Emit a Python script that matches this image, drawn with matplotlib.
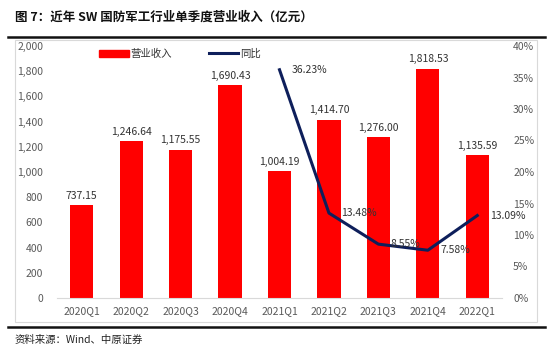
import matplotlib
matplotlib.use("Agg")
import matplotlib.pyplot as plt
import numpy as np
from matplotlib.patches import Rectangle
from matplotlib.lines import Line2D
from matplotlib.ticker import FuncFormatter

plt.rcParams['font.family'] = ['Noto Sans CJK SC', 'DejaVu Sans']

quarters = ['2020Q1', '2020Q2', '2020Q3', '2020Q4', '2021Q1',
            '2021Q2', '2021Q3', '2021Q4', '2022Q1']
revenue = [737.15, 1246.64, 1175.55, 1690.43, 1004.19,
           1414.70, 1276.00, 1818.53, 1135.59]
yoy_quarters = ['2021Q1', '2021Q2', '2021Q3', '2021Q4', '2022Q1']
yoy = [36.23, 13.48, 8.55, 7.58, 13.09]

W, H = 553, 356
fig = plt.figure(figsize=(W / 100, H / 100), dpi=100)

# title and frame lines
fig.text(15 / W, 1 - 17 / H, '图 7：近年 SW 国防军工行业单季度营业收入（亿元）',
         fontsize=9, fontweight='bold', va='center', ha='left', color='#111111')
fig.add_artist(Line2D([8 / W, 545 / W], [1 - 37 / H, 1 - 37 / H], color='#111111', lw=1.8))
fig.add_artist(Line2D([8 / W, 545 / W], [1 - 327 / H, 1 - 327 / H], color='#111111', lw=1.8))
fig.add_artist(Rectangle((15 / W, 1 - 322 / H), 522 / W, 282 / H, fill=False,
                         edgecolor='#d9d9d9', lw=0.8))
fig.text(15 / W, 1 - 340 / H, '资料来源：Wind、中原证券', fontsize=7.5,
         va='center', ha='left', color='#222222')

ax = fig.add_axes([57 / W, 58 / H, 445 / W, 252 / H])
x = np.arange(len(quarters))
ax.bar(x, revenue, width=0.47, color='#ff0000', label='营业收入', zorder=2)
for xi, v in zip(x, revenue):
    ax.text(xi, v + 35, f'{v:,.2f}', ha='center', va='bottom', fontsize=7.5, color='#333333')
ax.set_xlim(-0.5, len(quarters) - 0.5)
ax.set_ylim(0, 2000)
ax.set_yticks(np.arange(0, 2001, 200))
ax.yaxis.set_major_formatter(FuncFormatter(lambda v, p: f'{v:,.0f}'))
ax.set_xticks(x)
ax.set_xticklabels(quarters)
for s in ['top', 'right', 'left']:
    ax.spines[s].set_visible(False)
ax.spines['bottom'].set_color('#d9d9d9')
ax.tick_params(axis='both', length=0, labelsize=7.5, colors='#595959')
ax.tick_params(axis='y', pad=10)
ax.tick_params(axis='x', pad=6)

ax2 = ax.twinx()
xl = [quarters.index(q) for q in yoy_quarters]
ax2.plot(xl, yoy, color='#0e1f5b', lw=2.2, label='同比', zorder=3)
for xi, v in zip(xl, yoy):
    ax2.annotate(f'{v:.2f}%', (xi, v), xytext=(9, 0), textcoords='offset points',
                 ha='left', va='center', fontsize=7.5, color='#333333')
ax2.set_ylim(0, 40)
ax2.set_yticks(np.arange(0, 41, 5))
ax2.yaxis.set_major_formatter(FuncFormatter(lambda v, p: f'{v:.0f}%'))
for s in ['top', 'right', 'left', 'bottom']:
    ax2.spines[s].set_visible(False)
ax2.tick_params(axis='y', length=0, labelsize=7.5, colors='#595959', pad=8)

handles = [Rectangle((0, 0), 1, 1, color='#ff0000'),
           Line2D([0], [0], color='#0e1f5b', lw=2.2)]
fig.legend(handles, ['营业收入', '同比'], loc='center', bbox_to_anchor=(180 / W, 1 - 54 / H),
           ncol=2, frameon=False, fontsize=7.5, handlelength=2.8, handletextpad=0.2,
           columnspacing=3.5, labelcolor='#333333')

fig.savefig('out.png', dpi=100)
